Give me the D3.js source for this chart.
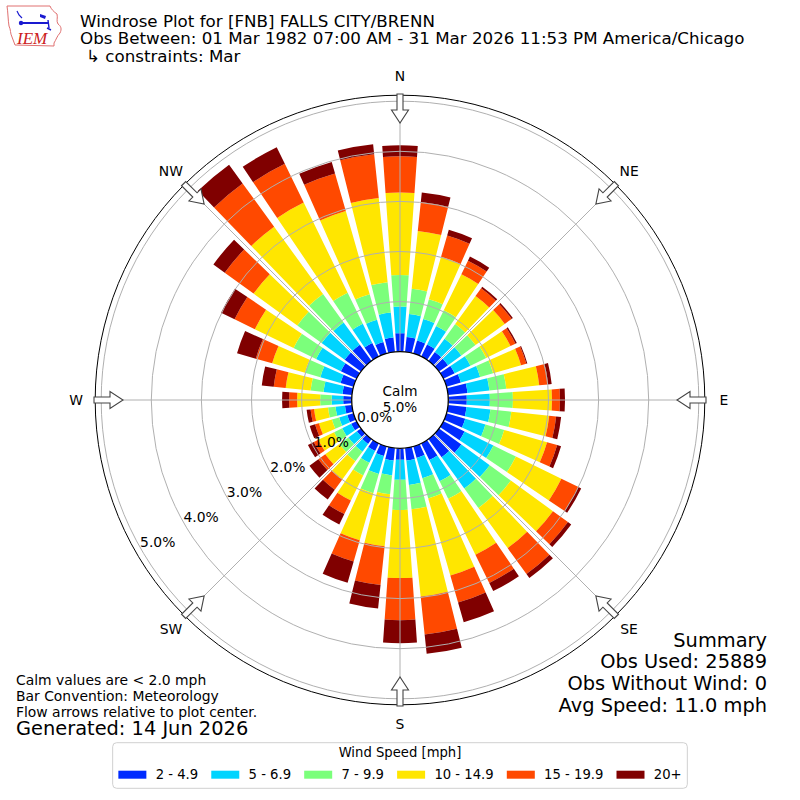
<!DOCTYPE html>
<html>
<head>
<meta charset="utf-8">
<script src="https://cdn.jsdelivr.net/npm/d3@7"></script>
<style>
body{margin:0;background:#fff}
text{font-family:"DejaVu Sans",sans-serif;fill:#000}
</style>
</head>
<body>
<script>
// wind directions (deg, where wind comes from)
var directions = [0,10,20,30,40,50,60,70,80,90,100,110,120,130,140,150,160,170,
                  180,190,200,210,220,230,240,250,260,270,280,290,300,310,320,330,340,350];

var speedBins = ["2 - 4.9","5 - 6.9","7 - 9.9","10 - 14.9","15 - 19.9","20+"];
var binColors = ["#002bff","#00d4ff","#7bff7b","#ffe600","#ff4900","#800000"];

// percent of obs per direction, per speed bin
var speed2to5   = [.37,.30,.27,.27,.22,.22,.25,.30,.39,.37,.37,.39,.47,.55,.45,.37,.24,.25,
                   .23,.25,.20,.17,.12,.10,.12,.13,.14,.17,.19,.27,.35,.40,.40,.30,.24,.29];
var speed5to7   = [.53,.46,.45,.41,.33,.33,.35,.40,.44,.46,.48,.42,.64,.70,.77,.47,.42,.49,
                   .40,.30,.37,.26,.19,.21,.20,.17,.19,.23,.38,.42,.55,.57,.55,.43,.46,.50];
var speed7to10  = [.63,.51,.41,.35,.36,.35,.35,.27,.34,.46,.42,.39,.50,.52,.48,.39,.42,.49,
                   .60,.38,.40,.28,.24,.22,.18,.15,.15,.23,.26,.32,.50,.60,.70,.69,.53,.61];
var speed10to15 = [1.65,1.16,.88,.80,.69,.72,.54,.58,.66,.78,.76,.89,1.01,1.04,.99,1.24,1.60,1.75,
                   1.36,1.04,.98,.56,.44,.35,.35,.27,.28,.46,.50,.68,.86,1.08,1.66,2.00,1.73,1.69];
var speed15to20 = [.72,.58,.44,.30,.19,.17,.11,.11,.18,.16,.14,.21,.38,.37,.64,.63,.56,.76,
                   .84,.78,.44,.30,.26,.17,.10,.08,.07,.16,.24,.34,.45,.71,1.07,.86,.78,.88];
var speed20up   = [.22,.19,.12,.09,.04,.03,.03,.02,.07,.10,.10,.08,.06,.08,.10,.18,.41,.39,
                   .46,.47,.44,.23,.24,.22,.13,.11,.08,.14,.24,.39,.30,.28,.46,.37,.24,.20];

var binValues = [speed2to5,speed5to7,speed7to10,speed10to15,speed15to20,speed20up];

var ringTicks = [0,1,2,3,4,5];
var compassNames = ["N","NE","E","SE","S","SW","W","NW"];
var calmPct = 5.0;

var titleLines = ["Windrose Plot for [FNB] FALLS CITY/BRENN",
  "Obs Between: 01 Mar 1982 07:00 AM - 31 Mar 2026 11:53 PM America/Chicago",
  "\u21b3 constraints: Mar"];
var summaryLines = ["Summary","Obs Used: 25889","Obs Without Wind: 0","Avg Speed: 11.0 mph"];
var noteLines = ["Calm values are < 2.0 mph","Bar Convention: Meteorology","Flow arrows relative to plot center."];

var width = 800, height = 800, cx = 400, cy = 400;

var svg = d3.select("body").append("svg")
  .attr("width",width)
  .attr("height",height);

var rows = directions.map(function(d,i){
  var o = {dir:d};
  speedBins.forEach(function(b,j){ o[b] = binValues[j][i]; });
  return o;
});
var stacked = d3.stack().keys(speedBins)(rows);

var rScale = d3.scaleLinear().domain([0,5]).range([48.3,298.8]);
var rMax = rScale(5.12);
var rad = Math.PI/180;

var plot = svg.append("g").attr("transform","translate(" + cx + "," + cy + ")");

var arc = d3.arc()
  .innerRadius(function(d){ return rScale(d[0]); })
  .outerRadius(function(d){ return rScale(d[1]); })
  .startAngle(function(d){ return (d.data.dir - 4)*rad; })
  .endAngle(function(d){ return (d.data.dir + 4)*rad; });

plot.selectAll("g.bin")
  .data(stacked)
  .enter().append("g")
  .attr("class","bin")
  .attr("fill",function(d,i){ return binColors[i]; })
  .selectAll("path")
  .data(function(d){ return d; })
  .enter().append("path")
  .attr("d",arc);

// grid
plot.selectAll("circle.ring")
  .data(ringTicks)
  .enter().append("circle")
  .attr("r",function(d){ return rScale(d); })
  .attr("fill","none")
  .attr("stroke","#b0b0b0")
  .attr("stroke-width",1);

plot.selectAll("line.spoke")
  .data(d3.range(0,360,45))
  .enter().append("line")
  .attr("x2",function(d){ return rMax*Math.sin(d*rad); })
  .attr("y2",function(d){ return -rMax*Math.cos(d*rad); })
  .attr("stroke","#b0b0b0")
  .attr("stroke-width",1);

plot.append("circle").attr("r",rMax)
  .attr("fill","none").attr("stroke","#000").attr("stroke-width",1);

// calm circle
plot.append("circle").attr("r",rScale(0))
  .attr("fill","#fff").attr("stroke","#000").attr("stroke-width",1.3);
plot.append("text").attr("text-anchor","middle").attr("y",-4)
  .style("font-size","13.6px").text("Calm");
plot.append("text").attr("text-anchor","middle").attr("y",11.7)
  .style("font-size","13.6px").text(d3.format(".1f")(calmPct) + "%");

// ring labels
plot.selectAll("text.rl")
  .data(ringTicks)
  .enter().append("text")
  .attr("x",function(d){ return rScale(d)*Math.sin(240*rad) + 16.5; })
  .attr("y",function(d){ return -rScale(d)*Math.cos(240*rad) - 7.5; })
  .attr("text-anchor","middle")
  .attr("dy","0.35em")
  .style("font-size","13.9px")
  .text(function(d){ return d3.format(".1f")(d) + "%"; });

// flow arrows
var arrowPts = [[-3,-306],[3,-306],[3,-290],[8.5,-290],[0,-277],[-8.5,-290],[-3,-290]];
plot.selectAll("path.arrow")
  .data(d3.range(0,360,45))
  .enter().append("path")
  .attr("d",d3.line()(arrowPts) + "Z")
  .attr("transform",function(d){ return "rotate(" + d + ")"; })
  .attr("fill","#fff")
  .attr("stroke","#444")
  .attr("stroke-width",1.1);

// compass labels
plot.selectAll("text.dir")
  .data(compassNames)
  .enter().append("text")
  .attr("x",function(d,i){ return 324*Math.sin(i*45*rad); })
  .attr("y",function(d,i){ return -324*Math.cos(i*45*rad); })
  .attr("text-anchor","middle")
  .attr("dy","0.35em")
  .style("font-size","13.9px")
  .text(function(d){ return d; });

// titles
svg.selectAll("text.title")
  .data(titleLines)
  .enter().append("text")
  .attr("x",function(d,i){ return i == 2 ? 86 : 80; })
  .attr("y",function(d,i){ return 26.5 + i*17.6; })
  .style("font-size","16.7px")
  .text(function(d){ return d; });

svg.selectAll("text.summary")
  .data(summaryLines)
  .enter().append("text")
  .attr("x",767)
  .attr("y",function(d,i){ return 646.7 + i*21.7; })
  .attr("text-anchor","end")
  .style("font-size","19.4px")
  .text(function(d){ return d; });

svg.selectAll("text.note")
  .data(noteLines)
  .enter().append("text")
  .attr("x",16)
  .attr("y",function(d,i){ return 685 + i*15.9; })
  .style("font-size","13.9px")
  .text(function(d){ return d; });

svg.append("text").attr("x",16).attr("y",735.3)
  .style("font-size","19.4px").text("Generated: 14 Jun 2026");

// legend
var legend = svg.append("g");
var box = legend.append("rect")
  .attr("y",742.7).attr("height",45.6)
  .attr("rx",4)
  .attr("fill","#fff").attr("stroke","#d0d0d0").attr("stroke-width",1);
legend.append("text").attr("x",400).attr("y",757.3)
  .attr("text-anchor","middle").style("font-size","13.2px").text("Wind Speed [mph]");

var items = legend.selectAll("g.item")
  .data(speedBins)
  .enter().append("g");
items.append("rect")
  .attr("y",770.7).attr("width",28).attr("height",8)
  .attr("fill",function(d,i){ return binColors[i]; });
items.append("text")
  .attr("x",37.3).attr("y",779)
  .style("font-size","13.2px")
  .text(function(d){ return d; });

var xs = [], cur = 0;
items.each(function(){
  xs.push(cur);
  cur += 37.3 + d3.select(this).select("text").node().getComputedTextLength() + 13.1;
});
var total = cur - 13.1;
var x0 = 400 - total/2;
items.attr("transform",function(d,i){ return "translate(" + (x0 + xs[i]) + ",0)"; });
box.attr("x",x0 - 5.7).attr("width",total + 11.4);

// IEM logo
var logo = svg.append("g");
logo.append("path")
  .attr("d","M7,6 L50,6 C51,9 54,12 57,14 C58,18 56,21 58,24 C61,26 62,29 60,33 C57,36 56,40 54,43 L54,46 L15,45 C14,42 13,40 12,37 C10,33 11,30 9,26 C8,20 8,12 7,6 Z")
  .attr("fill","none").attr("stroke","#e07070").attr("stroke-width",1);
logo.append("line").attr("x1",22).attr("y1",23).attr("x2",48).attr("y2",23)
  .attr("stroke","#1a1ad0").attr("stroke-width",2);
logo.append("circle").attr("cx",21).attr("cy",23).attr("r",2.2).attr("fill","#1a1ad0");
logo.append("path").attr("d","M40,14 L46,16 L45,19 L40,17 Z").attr("fill","#1a1ad0");
logo.append("path").attr("d","M17,11 L19,15 L22,18").attr("fill","none")
  .attr("stroke","#1a1ad0").attr("stroke-width",1.2);
logo.append("path").attr("d","M48,20 L49,28 M47,28 L51,30").attr("fill","none")
  .attr("stroke","#1a1ad0").attr("stroke-width",1.4);
logo.append("text").attr("x",17).attr("y",44)
  .style("font-family","'Liberation Serif',serif").style("font-style","italic")
  .style("font-size","17px").style("fill","#cc2020").text("IEM");
</script>
</body>
</html>
